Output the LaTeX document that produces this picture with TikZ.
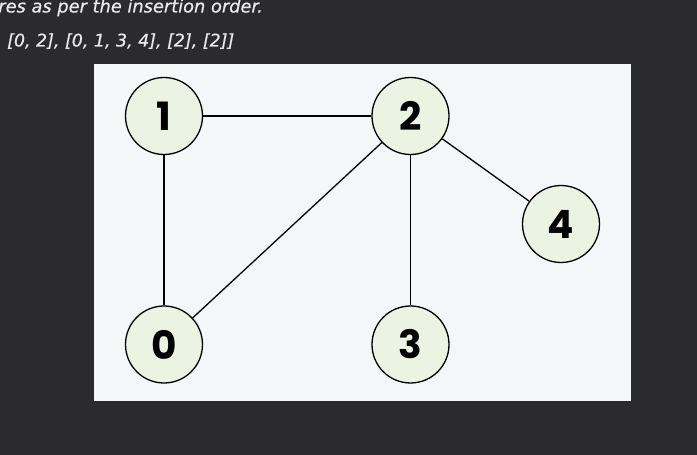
\documentclass[tikz,border=0pt]{standalone}
\usepackage{fontspec}
\setmainfont{DejaVu Sans}
\newfontfamily\numfont{Poppins}
\newfontfamily\capfont[FakeBold=0.6]{DejaVu Sans}
\definecolor{bgdark}{HTML}{2B2B2D}
\definecolor{panel}{HTML}{F4F6F8}
\definecolor{nodefill}{HTML}{EBF3E3}
\definecolor{txtlight}{HTML}{EAEAEA}
\tikzset{
  vertex/.style={circle, draw=black, line width=1.3pt, fill=nodefill, minimum size=77pt, inner sep=0pt,
    font=\numfont\bfseries\fontsize{39}{39}\selectfont},
  edge/.style={draw=black, line width=1.3pt},
  caption/.style={text=txtlight, font=\capfont\itshape\fontsize{17.4}{20}\selectfont, inner sep=0pt}
}
\begin{document}
\begin{tikzpicture}[x=1pt,y=1pt]
\useasboundingbox (0,0) rectangle (697,455);
\clip (0,0) rectangle (697,455);
\fill[bgdark] (0,0) rectangle (697,455);
\fill[panel] (94,54) rectangle (631,391);
\node[caption, anchor=base east, font=\capfont\itshape\fontsize{17.8}{20}\selectfont] (line1) at (263,442.5) {res as per the insertion order.};
\node[caption, anchor=base west] (line2) at (7,408.5) {[0, 2], [0, 1, 3, 4], [2], [2]]};
\node[vertex] (n1) at (164,339) {1};
\node[vertex] (n2) at (410.5,339) {2};
\node[vertex] (n4) at (561,231) {4};
\node[vertex] (n0) at (164,110.5) {0};
\node[vertex] (n3) at (410.5,110.5) {3};
\draw[edge] (n1) -- (n2);
\draw[edge] (n1) -- (n0);
\draw[edge] (n0) -- (n2);
\draw[edge] (n2) -- (n3);
\draw[edge] (n2) -- (n4);
\end{tikzpicture}
\end{document}
